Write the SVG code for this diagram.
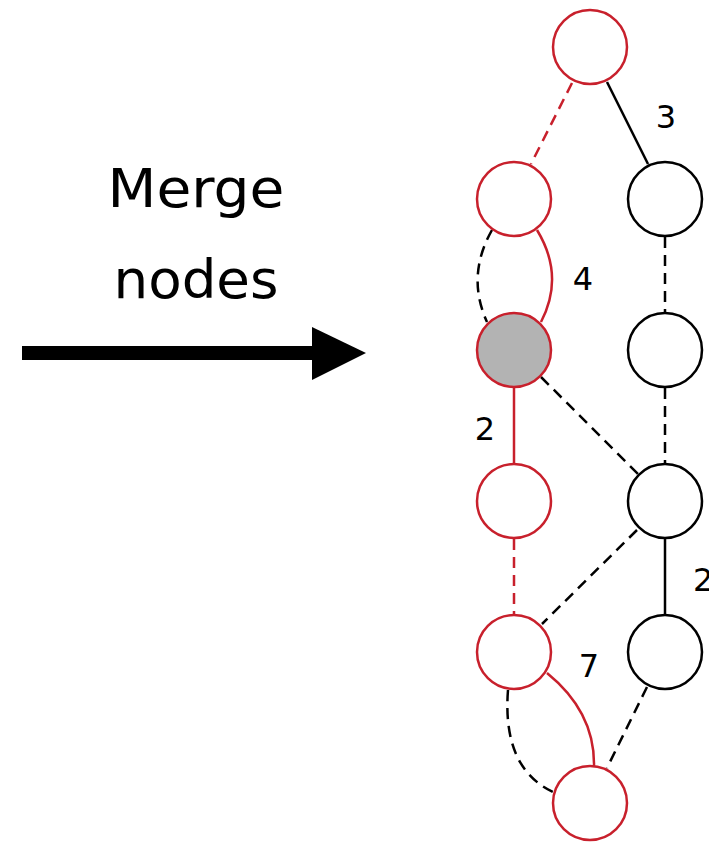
<svg xmlns="http://www.w3.org/2000/svg" width="709" height="842" viewBox="0 0 709 842">
  <style>
    .node { fill: #ffffff; stroke-width: 2.5; }
    .red { stroke: #c8202c; }
    .blk { stroke: #000000; }
    .merged { fill: #b3b3b3; }
    .edge { fill: none; stroke-width: 2.5; }
    .dash { stroke-dasharray: 11 7; }
    .lbl { font-family: "DejaVu Sans", "Liberation Sans", sans-serif; font-size: 32px; fill: #000; }
    .title { font-family: "DejaVu Sans", "Liberation Sans", sans-serif; font-size: 53px; fill: #000; text-anchor: middle; }
  </style>

  <!-- heading and transition arrow -->
  <g id="caption">
    <text class="title" x="196" y="207" textLength="177" lengthAdjust="spacingAndGlyphs">Merge</text>
    <text class="title" x="196" y="298" textLength="165" lengthAdjust="spacingAndGlyphs">nodes</text>
  </g>
  <g id="arrow">
    <rect x="22" y="346" width="292" height="14" fill="#000"/>
    <polygon points="312,327 366,353 312,380" fill="#000"/>
  </g>

  <!-- connectors -->
  <g id="edges">
    <line class="edge red dash" x1="572" y1="83" x2="531" y2="164"/>
    <line class="edge blk" x1="607" y1="82" x2="648" y2="164"/>
    <path class="edge blk dash" d="M492,230 Q466,276 487,322"/>
    <path class="edge red" d="M537,230 Q565,276 541,322"/>
    <line class="edge blk dash" x1="665" y1="237" x2="665" y2="312"/>
    <line class="edge red" x1="514" y1="388" x2="514" y2="463"/>
    <line class="edge blk dash" x1="541" y1="377" x2="638" y2="474"/>
    <line class="edge blk dash" x1="665" y1="388" x2="665" y2="463"/>
    <line class="edge red dash" x1="514" y1="539" x2="514" y2="614"/>
    <line class="edge blk dash" x1="637" y1="530" x2="542" y2="624"/>
    <line class="edge blk" x1="665" y1="539" x2="665" y2="614"/>
    <path class="edge red" d="M547,673 Q595,712 594,766"/>
    <path class="edge blk dash" d="M508,690 Q502,768 553,792"/>
    <line class="edge blk dash" x1="647" y1="687" x2="607" y2="768"/>
  </g>

  <!-- edge weights -->
  <g id="weights">
    <text class="lbl" x="666" y="128" text-anchor="middle">3</text>
    <text class="lbl" x="583" y="290" text-anchor="middle">4</text>
    <text class="lbl" x="485" y="440" text-anchor="middle">2</text>
    <text class="lbl" x="693" y="591">2</text>
    <text class="lbl" x="589" y="677" text-anchor="middle">7</text>
  </g>

  <!-- nodes -->
  <g id="n-top"><circle class="node red" cx="590" cy="47" r="37"/></g>
  <g id="n-l1"><circle class="node red" cx="514" cy="199" r="37"/></g>
  <g id="n-r1"><circle class="node blk" cx="665" cy="199" r="37"/></g>
  <g id="n-merged"><circle class="node red merged" cx="514" cy="350" r="37"/></g>
  <g id="n-r2"><circle class="node blk" cx="665" cy="350" r="37"/></g>
  <g id="n-l3"><circle class="node red" cx="514" cy="501" r="37"/></g>
  <g id="n-r3"><circle class="node blk" cx="665" cy="501" r="37"/></g>
  <g id="n-l4"><circle class="node red" cx="514" cy="652" r="37"/></g>
  <g id="n-r4"><circle class="node blk" cx="665" cy="652" r="37"/></g>
  <g id="n-bottom"><circle class="node red" cx="590" cy="803" r="37"/></g>
</svg>
